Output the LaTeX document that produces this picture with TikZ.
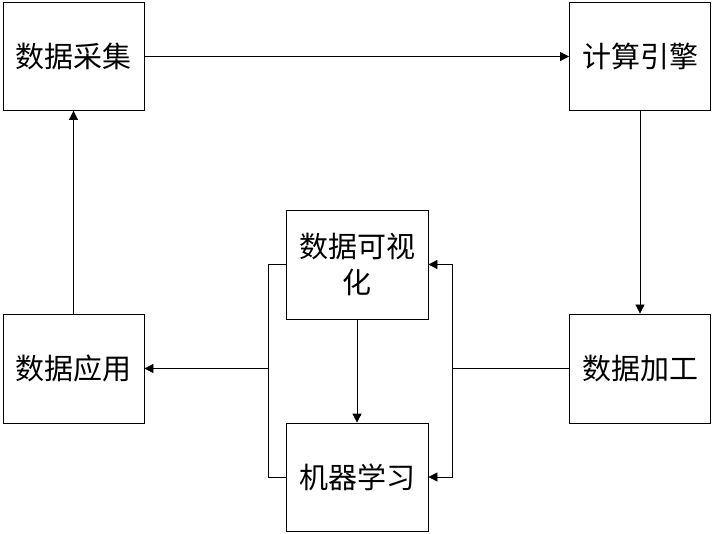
\documentclass[tikz,border=0pt]{standalone}
\usepackage{fontspec}
\newfontfamily\cjk{Noto Sans CJK SC}
\usetikzlibrary{arrows.meta}
\begin{document}
\begin{tikzpicture}[x=1pt,y=-1pt,
  box/.style={draw, line width=0.8pt, inner sep=0pt, minimum width=141pt, minimum height=108pt, font=\cjk\fontsize{29}{36}\selectfont, align=center},
  conn/.style={line width=0.8pt},
  arr/.style={conn, -{Triangle[length=9pt,width=9pt]}}]
\useasboundingbox (0,0) rectangle (714,534);
\node[box] (cj) at (73.5,56.5) {数据采集};
\node[box] (js) at (640,56.5) {计算引擎};
\node[box, minimum height=109pt] (yy) at (73.5,368.5) {数据应用};
\node[box, minimum height=109pt] (jg) at (640,368.5) {数据加工};
\node[box, minimum height=109pt, minimum width=142pt] (ksh) at (357,264.5) {数据可视\\化};
\node[box, minimum width=142pt] (jq) at (357,477) {机器学习};
\coordinate (rmid) at (452,368.5);
\coordinate (lmid) at (268,368.5);
\draw[arr] (cj.east) -- (js.west);
\draw[arr] (js.south) -- (jg.north);
\draw[conn] (jg.west) -- (rmid);
\draw[arr] (rmid) |- (ksh.east);
\draw[arr] (rmid) |- (jq.east);
\draw[arr] (ksh.south) -- (jq.north);
\draw[conn] (ksh.west) -| (lmid);
\draw[conn] (jq.west) -| (lmid);
\draw[arr] (lmid) -- (yy.east);
\draw[arr] (yy.north) -- (cj.south);
\end{tikzpicture}
\end{document}
